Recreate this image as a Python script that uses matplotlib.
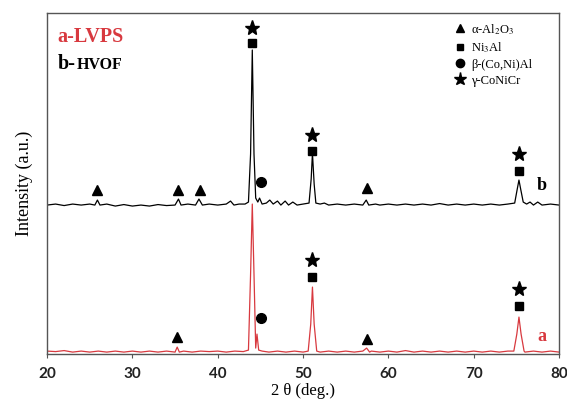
import matplotlib
matplotlib.use("Agg")
import matplotlib.pyplot as plt
from matplotlib.lines import Line2D

plt.rcParams["mathtext.fontset"] = "stix"

# 2-theta (deg) and intensity (a.u.)
hvof_x = [20.0, 21, 22, 23, 24, 25, 25.6, 25.9, 26.2, 27, 28, 29, 30, 31, 32, 33, 34, 35.0,
          35.4, 35.7, 36.5, 37.4, 37.8, 38.2, 39, 40, 41, 41.5, 41.9, 42.5, 43.2, 43.6,
          43.85, 44.05, 44.25, 44.45, 44.7, 44.9, 45.2, 45.7, 46.1, 46.5, 47.0, 47.4, 47.9,
          48.3, 48.8, 49.3, 50, 50.7, 50.95, 51.1, 51.3, 51.5, 52, 52.5, 53, 54, 55, 56, 57,
          57.4, 57.7, 58.5, 59, 60, 61, 62, 63, 64, 65, 66, 67, 68, 69, 70, 71, 72, 73, 74,
          74.8, 75.1, 75.3, 75.5, 75.8, 76.2, 76.6, 77, 77.5, 78, 79, 80]
hvof_y = [149, 150, 148.5, 150, 149, 150, 149, 154, 149, 150, 148, 149.5, 148, 149, 148,
          149.5, 148.5, 149, 155, 149, 150, 149, 155, 149, 150, 149, 150, 153, 149, 150, 150,
          152, 200, 304, 200, 156, 152, 156, 150, 151, 154, 150, 153, 149, 153, 149, 152, 149,
          150, 151, 175, 201, 170, 151, 150, 151, 149, 150, 149, 150, 149, 154, 149, 150, 149,
          150, 149, 150, 149, 150, 149, 150.5, 149, 150, 149, 150, 149, 150, 149, 150, 151,
          165, 174, 165, 152, 150, 152, 149, 152, 149, 150, 149]

lvps_x = [20, 21, 22, 23, 24, 25, 26, 27, 28, 29, 30, 31, 32, 33, 34, 35.0, 35.25, 35.5, 36,
          37, 38, 39, 40, 41, 42, 43, 43.6, 43.85, 44.05, 44.25, 44.45, 44.6, 44.8, 45.2, 46,
          47, 48, 49, 50, 50.6, 50.9, 51.1, 51.3, 51.6, 52, 53, 54, 55, 56, 57, 57.45, 57.8,
          58, 59, 60, 61, 62, 63, 64, 65, 66, 67, 68, 69, 70, 71, 72, 73, 74, 74.7, 75.05,
          75.3, 75.55, 75.9, 76, 77, 78, 79, 80]
lvps_y = [3, 2.5, 3.5, 2, 3, 2, 3, 2, 3, 2, 3, 2, 3, 2, 3, 2, 7, 2, 3, 2, 3, 2.5, 3, 2, 3,
          2.5, 4, 80, 150, 80, 6, 20, 4, 3, 2, 3, 2, 3, 2, 3, 30, 67, 30, 3, 2, 3, 2, 3, 2,
          3, 6, 2, 3, 2, 3, 2, 3.5, 2, 3, 2, 3, 2, 3, 2, 3, 2, 3, 2, 3, 3, 20, 37, 20, 3, 2,
          3, 2, 3, 2]

# phase markers (2-theta, intensity)
hvof_tri_x = [25.8, 35.3, 37.9, 57.5]
hvof_tri_y = [164, 164, 164, 166]
hvof_sq_x = [44.05, 51.1, 75.3]
hvof_sq_y = [311, 203, 183]
hvof_star_x = [44.05, 51.1, 75.3]
hvof_star_y = [326, 219, 200]
hvof_circ_x = [45.05]
hvof_circ_y = [172]

lvps_tri_x = [35.2, 57.5]
lvps_tri_y = [17, 15]
lvps_sq_x = [51.1, 75.3]
lvps_sq_y = [77, 48]
lvps_star_x = [51.1, 75.3]
lvps_star_y = [94, 65]
lvps_circ_x = [45.05]
lvps_circ_y = [36]

phases = ["α-Al$_2$O$_3$", "Ni$_3$Al", "β-(Co,Ni)Al", "γ-CoNiCr"]
x_ticks = [20, 30, 40, 50, 60, 70, 80]

red = "#d8393f"

fig = plt.figure(figsize=(5.67, 4.07), dpi=100)
ax = fig.add_axes([0.083, 0.130, 0.903, 0.838])

ax.plot(lvps_x, lvps_y, color=red, lw=0.9)
ax.plot(hvof_x, hvof_y, color="black", lw=0.9)

mk = dict(color="black", linestyle="none")
for tx, ty, sx, sy, stx, sty, cx, cy in [
        (hvof_tri_x, hvof_tri_y, hvof_sq_x, hvof_sq_y, hvof_star_x, hvof_star_y, hvof_circ_x, hvof_circ_y),
        (lvps_tri_x, lvps_tri_y, lvps_sq_x, lvps_sq_y, lvps_star_x, lvps_star_y, lvps_circ_x, lvps_circ_y)]:
    ax.plot(tx, ty, marker="^", ms=7, **mk)
    ax.plot(sx, sy, marker="s", ms=6, **mk)
    ax.plot(stx, sty, marker="*", ms=11, **mk)
    ax.plot(cx, cy, marker="o", ms=7, **mk)

handles = [Line2D([], [], marker=m, ms=s, **mk) for m, s in
           [("^", 6), ("s", 5), ("o", 6), ("*", 9.5)]]
ax.legend(handles, phases, loc="upper right", bbox_to_anchor=(0.965, 1.0), frameon=False,
          prop={"family": "Liberation Serif", "size": 9}, handlelength=1.0,
          handletextpad=0.4, labelspacing=0.3, borderaxespad=0.3)

ax.text(78.0, 169, "b", fontsize=13, fontweight="bold", family="Liberation Serif",
        ha="center", va="center")
ax.text(78.0, 18, "a", fontsize=13, fontweight="bold", family="Liberation Serif",
        color=red, ha="center", va="center")
ax.text(0.02, 0.915, "a-LVPS", transform=ax.transAxes, color=red, fontsize=14.5,
        fontweight="bold", family="Liberation Serif", va="baseline")
ax.text(0.02, 0.835, "b-", transform=ax.transAxes, color="black", fontsize=14.5,
        fontweight="bold", family="Liberation Serif", va="baseline")
ax.text(0.057, 0.835, "HVOF", transform=ax.transAxes, color="black", fontsize=11.5,
        fontweight="bold", family="Liberation Serif", va="baseline")

ax.set_xlim(20, 80)
ax.set_ylim(0, 341)
ax.set_xticks(x_ticks)
ax.set_yticks([])
ax.tick_params(axis="x", direction="out", length=3, width=0.8, color="#555555",
               labelsize=11, pad=6)
for lab in ax.get_xticklabels():
    lab.set_fontfamily("Lato")
    lab.set_fontweight("bold")
    lab.set_color("#222222")
for sp in ax.spines.values():
    sp.set_color("#555555")
    sp.set_linewidth(1.0)

ax.set_xlabel("2 θ (deg.)", family="Liberation Serif", fontsize=12, labelpad=2)
ax.set_ylabel("Intensity (a.u.)", family="Liberation Serif", fontsize=13, labelpad=10)

fig.savefig("out.png", dpi=100)
